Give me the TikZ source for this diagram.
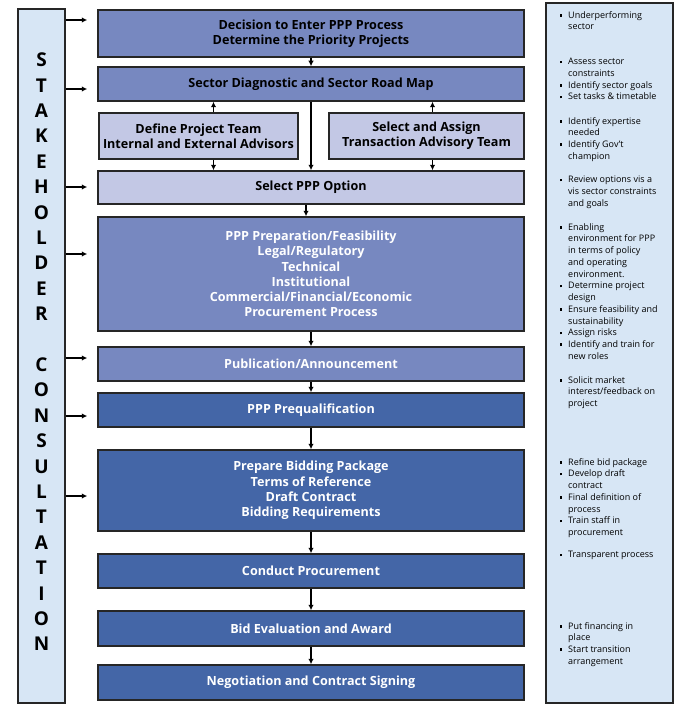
\documentclass[tikz,border=0pt]{standalone}
\usepackage{fontspec}
\setmainfont{Open Sans}
\usepackage{tikz}
\usetikzlibrary{arrows.meta, positioning}

\definecolor{stepmid}{HTML}{7788C0}
\definecolor{stepdark}{HTML}{4466A7}
\definecolor{steplight}{HTML}{C3C8E5}
\definecolor{sidebg}{HTML}{D7E6F5}

% small square bullet hung into the left margin
\newcommand{\bul}{\llap{\rule[1.5pt]{2.6pt}{2.6pt}\hspace{6pt}}}

\begin{document}
\begin{tikzpicture}[x=1pt, y=-1pt,
    box/.style={draw=black!85, line width=1.5pt, align=center, minimum width=426pt,
                inner sep=2pt, font=\fontsize{12.6}{15.2}\selectfont\bfseries},
    midbox/.style={box, fill=stepmid},
    darkbox/.style={box, fill=stepdark, text=white},
    lightbox/.style={box, fill=steplight},
    panel/.style={draw=black!85, line width=1.2pt, fill=sidebg},
    note/.style={anchor=north west, align=left, inner sep=0pt,
                 font=\fontsize{9}{11.75}\selectfont},
    arrow/.style={-{Latex[length=5.5pt,width=5.5pt]}, line width=1.3pt}
    ]
    \useasboundingbox (0,0) rectangle (676,706);

    % stakeholder bar
    \node[panel, minimum width=47pt, minimum height=694pt] (sh) at (41.5,356) {};
    \node[align=center, inner sep=0pt, font=\fontsize{19}{25.4}\selectfont\bfseries]
        (shtext) at (41.5,352)
        {S\\T\\A\\K\\E\\H\\O\\L\\D\\E\\R\\\mbox{}\\C\\O\\N\\S\\U\\L\\T\\A\\T\\I\\O\\N};

    % main steps
    \node[midbox, minimum height=47pt] (b1) at (311,33.5)
        {Decision to Enter PPP Process\\Determine the Priority Projects};
    \node[midbox, minimum height=34pt] (b2) at (311,84)
        {Sector Diagnostic and Sector Road Map};
    \node[lightbox, minimum width=199pt, minimum height=46pt] (b3a) at (198.5,136)
        {Define Project Team\\Internal and External Advisors};
    \node[lightbox, minimum width=195pt, minimum height=46pt] (b3b) at (426.5,136)
        {Select and Assign\\Transaction Advisory Team};
    \node[lightbox, minimum height=33pt] (b4) at (311,187.5)
        {Select PPP Option};
    \node[midbox, text=white, minimum height=114pt] (b5) at (311,274)
        {PPP Preparation/Feasibility\\Legal/Regulatory\\Technical\\Institutional\\
         Commercial/Financial/Economic\\Procurement Process};
    \node[midbox, text=white, minimum height=34pt] (b6) at (311,364)
        {Publication/Announcement};
    \node[darkbox, minimum height=34pt] (b7) at (311,410)
        {PPP Prequalification};
    \node[darkbox, minimum height=81pt] (b8) at (311,490.5)
        {Prepare Bidding Package\\Terms of Reference\\Draft Contract\\Bidding Requirements};
    \node[darkbox, minimum height=34pt] (b9) at (311,571)
        {Conduct Procurement};
    \node[darkbox, minimum height=35pt] (b10) at (311,628.5)
        {Bid Evaluation and Award};
    \node[darkbox, minimum height=35pt] (b11) at (311,682.5)
        {Negotiation and Contract Signing};

    % flow between steps
    \draw[arrow] (b1) -- (b2);
    \draw[arrow] (b2) -- (b4);
    \draw[arrow] ([xshift=15pt]b3a.north) -- ([xshift=15pt]b3a.north |- b2.south);
    \draw[arrow] ([xshift=15pt]b3a.south) -- ([xshift=15pt]b3a.south |- b4.north);
    \draw[arrow] ([xshift=6pt]b3b.north) -- ([xshift=6pt]b3b.north |- b2.south);
    \draw[arrow] ([xshift=6pt]b3b.south) -- ([xshift=6pt]b3b.south |- b4.north);
    \draw[arrow] ([xshift=-5pt]b4.south) -- ([xshift=-5pt]b5.north);
    \draw[arrow] (b5) -- (b6);
    \draw[arrow] (b6) -- (b7);
    \draw[arrow] (b7) -- (b8);
    \draw[arrow] (b8) -- (b9);
    \draw[arrow] (b9) -- (b10);
    \draw[arrow] (b10) -- (b11);

    % consultation feeds
    \foreach \y/\b in {20/b1, 89/b2, 187/b4, 254/b5, 358/b6, 416/b7, 496/b8}
        \draw[arrow, shorten >=10pt] (sh.east |- 0,\y) -- (\b.west |- 0,\y);

    % notes panel
    \node[panel, minimum width=127pt, minimum height=700pt] (side) at (609.5,353) {};
    \node[note] (n1) at (568,11) {\bul Underperforming\\sector};
    \node[note] (n2) at (568,58) {\bul Assess sector\\constraints\\\bul Identify sector goals\\
        \bul Set tasks \& timetable};
    \node[note] (n3) at (568,117) {\bul Identify expertise\\needed\\\bul Identify Gov’t\\champion};
    \node[note] (n4) at (568,176) {\bul Review options vis a\\vis sector constraints\\and goals};
    \node[note] (n5) at (568,223) {\bul Enabling\\environment for PPP\\in terms of policy\\
        and operating\\environment.\\\bul Determine project\\design\\
        \bul Ensure feasibility and\\sustainability\\\bul Assign risks\\
        \bul Identify and train for\\new roles};
    \node[note] (n6) at (568,376) {\bul Solicit market\\interest/feedback on\\project};
    \node[note] (n7) at (568,458) {\bul Refine bid package\\\bul Develop draft\\contract\\
        \bul Final definition of\\process\\\bul Train staff in\\procurement};
    \node[note] (n8) at (568,551) {\bul Transparent process};
    \node[note] (n9) at (568,622) {\bul Put financing in\\place\\\bul Start transition\\arrangement};
\end{tikzpicture}
\end{document}
